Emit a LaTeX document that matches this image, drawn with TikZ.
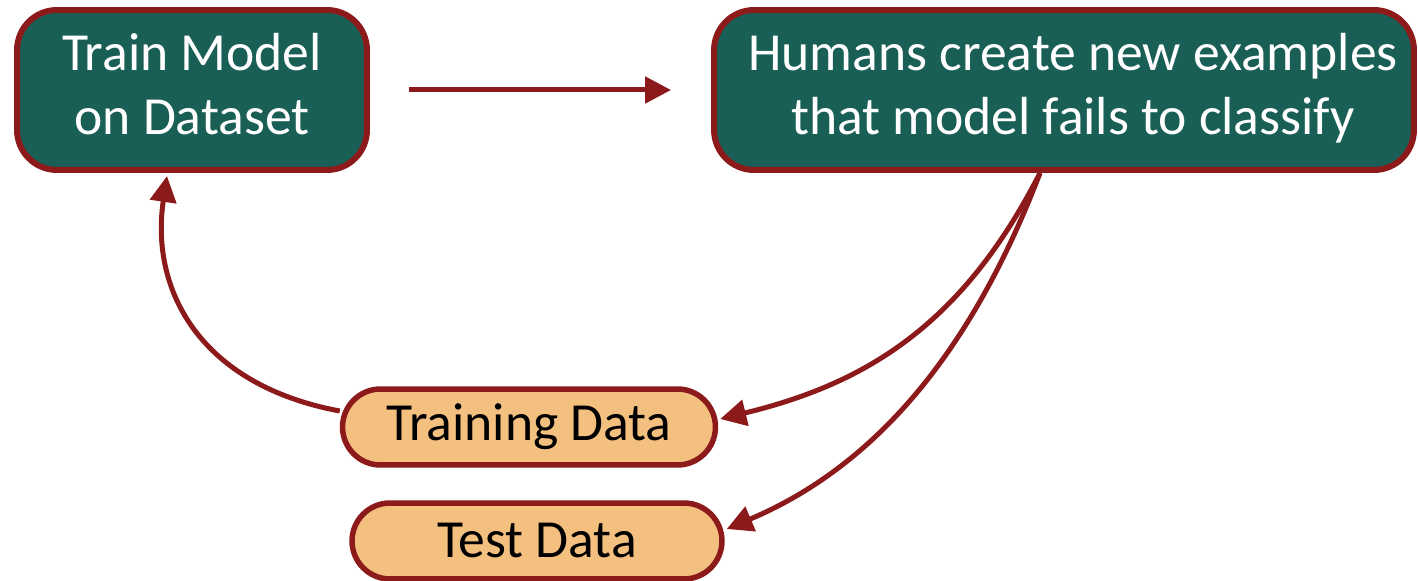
\documentclass[tikz,border=0pt]{standalone}
\usepackage{fontspec}
\setmainfont{Carlito}
\usetikzlibrary{arrows.meta,calc}
\definecolor{boxgreen}{HTML}{1A5F55}
\definecolor{boxred}{HTML}{8C1A1B}
\definecolor{boxorange}{HTML}{F4C080}
\newcommand{\twolines}[2]{\raisebox{0.29cm}{\begin{tabular}{@{}c@{}}#1\\#2\end{tabular}}}
\tikzset{
  greenbox/.style={draw=boxred, line width=0.12cm, fill=boxgreen, rounded corners=0.8cm,
    text=white, align=center, font=\fontsize{30.5}{36.5}\selectfont, inner sep=0pt},
  databox/.style={draw=boxred, line width=0.11cm, fill=boxorange, rounded corners=0.76cm,
    text=black, align=center, font=\fontsize{30.5}{36}\selectfont, inner sep=0pt},
  conn/.style={draw=boxred, line width=0.1cm, -{Triangle[length=0.52cm,width=0.52cm]}},
}
\begin{document}
\begin{tikzpicture}[x=0.02cm,y=-0.02cm]
\useasboundingbox (0,0) rectangle (1418,581);
\node[greenbox, minimum width=7cm, minimum height=3.2cm] (b1) at (192,90) {\twolines{Train Model}{on Dataset}};
\node[greenbox, minimum width=14cm, minimum height=3.2cm] (b2) at (1064,90) {\hspace*{0.36cm}\twolines{Humans create new examples}{that model fails to classify}};
\node[databox, minimum width=7.46cm, minimum height=1.52cm] (tr) at (529,427) {Training Data};
\node[databox, minimum width=7.4cm, minimum height=1.52cm] (te) at (537,541) {Test Data};
\coordinate (s) at ($(b2.south)+(-24,0)$);
\coordinate (t1) at ($(tr.east)+(2,-8)$);
\coordinate (t2) at ($(te.east)+(2,-12)$);
\coordinate (l0) at ($(tr.west)+(0,-16)$);
\coordinate (l1) at ($(b1.south)+(-25,3)$);
\draw[conn, shorten <=0.78cm, shorten >=0.8cm] (b1) -- (b2);
\draw[conn] (s) .. controls (960,330) and (860,385) .. (t1);
\draw[conn] (s) .. controls (980,330) and (890,460) .. (t2);
\draw[conn] (l0) .. controls (200,385) and (150,290) .. (l1);
\end{tikzpicture}
\end{document}
